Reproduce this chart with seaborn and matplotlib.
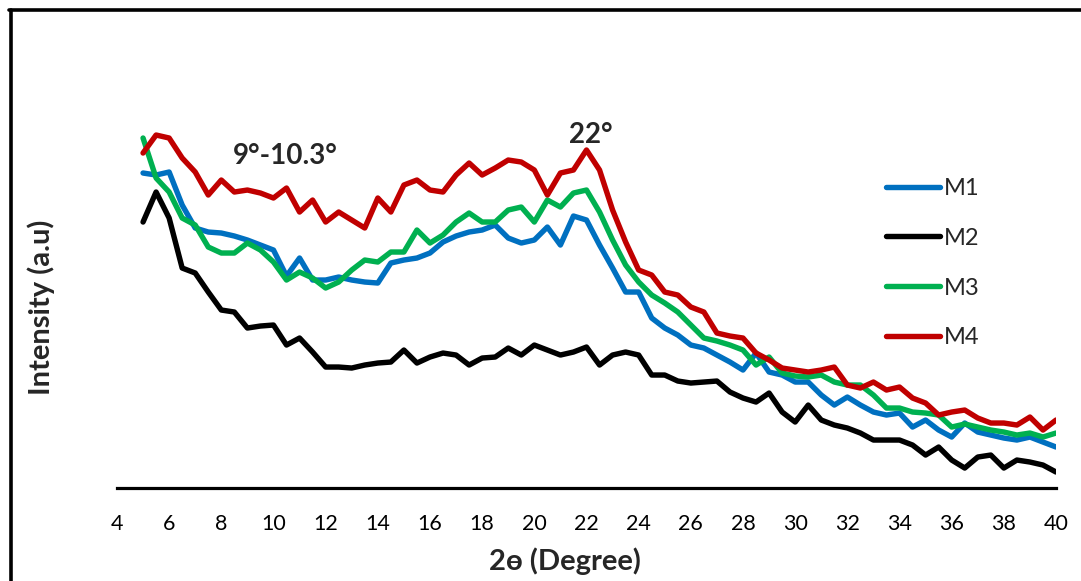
import pandas as pd
import matplotlib.pyplot as plt
import numpy as np
import seaborn as sns
from matplotlib.lines import Line2D

sns.set_style("white")
plt.rcParams["font.family"] = ["Lato", "DejaVu Sans"]

# 2-theta grid, 0.5 degree steps
two_theta = np.arange(5.0, 40.01, 0.5)

m1 = [315, 313, 316, 283, 260, 256, 255, 252, 248, 243,
      238, 212, 230, 208, 208, 211, 208, 206, 205, 225,
      228, 230, 235, 246, 252, 256, 258, 263, 250, 245,
      248, 261, 243, 272, 268, 243, 220, 196, 196, 170,
      160, 153, 143, 140, 133, 126, 118, 135, 116, 113,
      106, 106, 93, 83, 91, 83, 76, 73, 75, 61,
      68, 58, 51, 65, 56, 53, 50, 48, 51, 46, 41]
m2 = [266, 296, 270, 220, 215, 196, 178, 176, 160, 162,
      163, 143, 150, 136, 121, 121, 120, 123, 125, 126,
      138, 125, 131, 135, 133, 123, 130, 131, 140, 133,
      143, 138, 133, 136, 141, 123, 133, 136, 133, 113,
      113, 107, 105, 106, 107, 96, 90, 86, 95, 76,
      66, 83, 68, 63, 60, 55, 48, 48, 48, 43,
      33, 41, 28, 20, 31, 33, 20, 28, 26, 23, 16]
m3 = [350, 310, 296, 270, 263, 241, 235, 235, 245, 238,
      226, 208, 216, 210, 200, 206, 218, 228, 226, 236,
      236, 258, 245, 253, 266, 275, 266, 266, 278, 281,
      266, 288, 281, 295, 298, 276, 248, 223, 206, 193,
      185, 176, 163, 150, 147, 143, 138, 123, 131, 115,
      112, 111, 113, 106, 103, 103, 93, 80, 80, 76,
      75, 73, 61, 64, 61, 58, 56, 53, 55, 51, 55]
m4 = [335, 353, 350, 330, 316, 293, 308, 296, 298, 295,
      290, 300, 276, 288, 266, 276, 268, 260, 290, 276,
      303, 308, 298, 296, 313, 325, 313, 320, 328, 326,
      318, 293, 315, 318, 338, 318, 278, 246, 218, 213,
      196, 193, 181, 176, 155, 152, 150, 135, 128, 120,
      118, 116, 118, 121, 103, 100, 106, 98, 101, 90,
      85, 73, 76, 78, 70, 65, 65, 63, 71, 58, 68]

samples = ["M1", "M2", "M3", "M4"]
colors = ["#0070C0", "#000000", "#00B050", "#C00000"]

df = pd.concat([pd.DataFrame({"2theta": two_theta, "I": v, "sample": s})
                for s, v in zip(samples, [m1, m2, m3, m4])])

fig = plt.figure(figsize=(10.81, 5.81), dpi=100)
ax = fig.add_axes([0.1082, 0.160, 0.8687, 0.809])

sns.lineplot(data=df, x="2theta", y="I", hue="sample", palette=colors,
             linewidth=3.9, ax=ax, legend=False,
             solid_joinstyle="round", solid_capstyle="round")

ax.set_xlim(4, 40)
ax.set_ylim(0, 470)
ax.set_xticks(np.arange(4, 41, 2))
ax.set_yticks([])
for s in ["left", "right", "top"]:
    ax.spines[s].set_visible(False)
ax.spines["bottom"].set_linewidth(2.3)
ax.spines["bottom"].set_color("black")
ax.tick_params(axis="x", direction="out", length=5, width=2.3,
               labelsize=15.5, pad=14, colors="black")

ax.set_xlabel("2ɵ (Degree)", fontsize=21, fontweight="bold")
ax.xaxis.set_label_coords(0.477, -0.127)
ax.set_ylabel("Intensity (a.u)", fontsize=21, fontweight="bold")
ax.yaxis.set_label_coords(-0.066, 0.385)

ax.text(10.45, 332, "9°-10.3°", fontsize=20, fontweight="bold", ha="center", va="center")
ax.text(22.15, 353, "22°", fontsize=20, fontweight="bold", ha="center", va="center")

handles = [Line2D([], [], color=c, lw=3.9, solid_capstyle="round") for c in colors]
ax.legend(handles, samples, loc="upper left", bbox_to_anchor=(0.796, 0.705),
          frameon=False, fontsize=17, handlelength=2.3, handletextpad=0.15,
          labelspacing=1.22)

# outer frame (only left and top edges visible)
fig.add_artist(Line2D([0.0102, 0.0102], [-0.05, 0.9836], color="black", lw=2.6,
                      transform=fig.transFigure))
fig.add_artist(Line2D([0.0085, 1.05], [0.9836, 0.9836], color="black", lw=2.6,
                      transform=fig.transFigure))

plt.savefig("out.png", dpi=100)
